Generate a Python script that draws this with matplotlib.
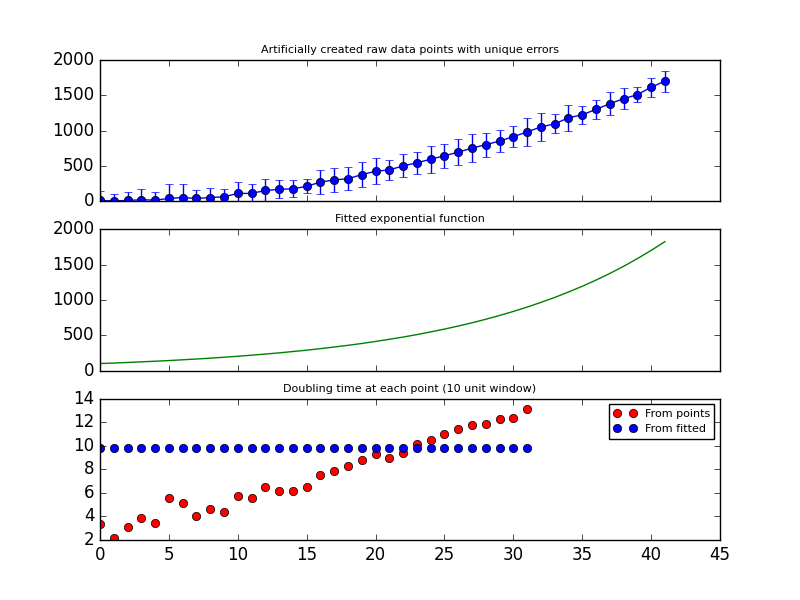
import matplotlib
matplotlib.use('Agg')
import matplotlib.pyplot as plt

plt.style.use('classic')

# raw data points with errors
raw_x = list(range(42))
raw_y = [10, 3, 10, 20, 15, 38, 52, 38, 52, 62,
         110, 110, 152, 167, 176, 210, 271, 300, 319, 376,
         424, 443, 500, 543, 595, 643, 695, 752, 800, 852,
         914, 981, 1052, 1095, 1181, 1224, 1300, 1381, 1452, 1509,
         1614, 1700]
raw_err = [140, 105, 124, 148, 119, 200, 186, 114, 138, 105,
           167, 128, 167, 128, 119, 100, 171, 174, 167, 179,
           183, 140, 164, 155, 193, 169, 186, 200, 171, 157,
           148, 193, 200, 136, 183, 129, 138, 167, 148, 107,
           138, 150]

# fitted exponential curve, read at each integer x
fit_x = list(range(42))
fit_y = [100, 107, 115, 124, 133, 142, 153, 164, 176, 189,
         203, 218, 234, 251, 270, 289, 311, 334, 358, 384,
         413, 443, 475, 510, 548, 588, 631, 677, 727, 781,
         838, 899, 966, 1036, 1113, 1194, 1282, 1376, 1477, 1586,
         1702, 1827]

# doubling time at each point
dt_x = list(range(32))
dt_points = [3.35, 2.15, 3.09, 3.91, 3.43, 5.57, 5.14, 4.03, 4.63, 4.37,
             5.74, 5.57, 6.54, 6.17, 6.17, 6.54, 7.54, 7.89, 8.26, 8.83,
             9.31, 8.94, 9.43, 10.14, 10.51, 11.0, 11.43, 11.77, 11.86, 12.29,
             12.37, 13.14]
dt_fitted = [9.84] * 32

fig, (ax1, ax2, ax3) = plt.subplots(3, 1, sharex=True, figsize=(8, 6), dpi=100)

ax1.errorbar(raw_x, raw_y, yerr=raw_err, fmt='bo-', ecolor='b')
ax1.set_title('Artificially created raw data points with unique errors', fontsize=8)
ax1.set_ylim(0, 2000)
ax1.set_yticks([0, 500, 1000, 1500, 2000])

ax2.plot(fit_x, fit_y, 'g-')
ax2.set_title('Fitted exponential function', fontsize=8)
ax2.set_ylim(0, 2000)
ax2.set_yticks([0, 500, 1000, 1500, 2000])

ax3.plot(dt_x, dt_points, 'ro', label='From points')
ax3.plot(dt_x, dt_fitted, 'bo', label='From fitted')
ax3.set_title('Doubling time at each point (10 unit window)', fontsize=8)
ax3.set_ylim(2, 14)
ax3.legend(loc='upper right', fontsize=8)

ax3.set_xlim(0, 45)
ax3.set_xticks(range(0, 46, 5))

fig.savefig('out.png', dpi=100)
